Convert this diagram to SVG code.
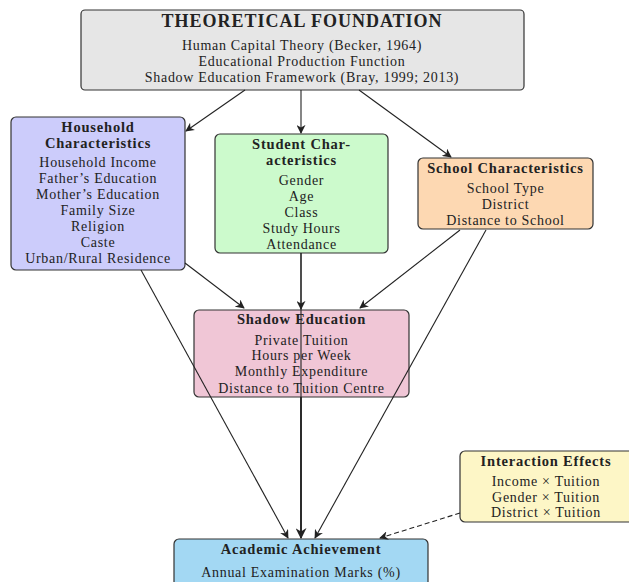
<svg xmlns="http://www.w3.org/2000/svg" width="629" height="582" viewBox="0 0 629 582">
<defs>
<marker id="arr" viewBox="0 0 10 10" refX="9" refY="5" markerWidth="9" markerHeight="9" markerUnits="userSpaceOnUse" orient="auto">
<path d="M0,0 L10,5 L0,10 L3,5 Z" fill="#222"/>
</marker>
<marker id="arrB" viewBox="0 0 10 10" refX="9" refY="5" markerWidth="11" markerHeight="11" markerUnits="userSpaceOnUse" orient="auto">
<path d="M0,0 L10,5 L0,10 L3,5 Z" fill="#222"/>
</marker>
<style>
.box{stroke:#333;stroke-width:1.2}
text{font-family:"Liberation Serif","DejaVu Serif",serif;fill:#222;text-anchor:middle}
.t{font-weight:bold;font-size:14.5px;letter-spacing:0.8px}
.b{font-size:14px;letter-spacing:0.7px}
.h{font-weight:bold;font-size:18px;letter-spacing:1px}
.c{fill:none;stroke:#222;stroke-width:1.1}
</style>
</defs>
<rect width="629" height="582" fill="#fff"/>
<g id="theory">
<rect class="box" x="81" y="10" width="443" height="80" rx="4" fill="#e6e6e6"/>
<text class="h" x="302" y="27">THEORETICAL FOUNDATION</text>
<text class="b" x="302" y="50">Human Capital Theory (Becker, 1964)</text>
<text class="b" x="302" y="66">Educational Production Function</text>
<text class="b" x="302" y="82">Shadow Education Framework (Bray, 1999; 2013)</text>
</g>
<g id="household">
<rect class="box" x="11" y="117" width="174" height="153" rx="5" fill="#ccccfb"/>
<text class="t" x="98" y="132">Household</text>
<text class="t" x="98" y="148">Characteristics</text>
<text class="b" x="98" y="167">Household Income</text>
<text class="b" x="98" y="183">Father’s Education</text>
<text class="b" x="98" y="199">Mother’s Education</text>
<text class="b" x="98" y="215">Family Size</text>
<text class="b" x="98" y="231">Religion</text>
<text class="b" x="98" y="247">Caste</text>
<text class="b" x="98" y="263">Urban/Rural Residence</text>
</g>
<g id="student">
<rect class="box" x="215" y="134" width="173" height="119" rx="5" fill="#ccfacc"/>
<text class="t" x="301.5" y="149">Student Char-</text>
<text class="t" x="301.5" y="165">acteristics</text>
<text class="b" x="301.5" y="185">Gender</text>
<text class="b" x="301.5" y="201">Age</text>
<text class="b" x="301.5" y="217">Class</text>
<text class="b" x="301.5" y="233">Study Hours</text>
<text class="b" x="301.5" y="249">Attendance</text>
</g>
<g id="school">
<rect class="box" x="418" y="158" width="175" height="71" rx="5" fill="#fdd8b2"/>
<text class="t" x="505.5" y="173">School Characteristics</text>
<text class="b" x="505.5" y="193">School Type</text>
<text class="b" x="505.5" y="209">District</text>
<text class="b" x="505.5" y="225">Distance to School</text>
</g>
<g id="shadow">
<rect class="box" x="194" y="310" width="215" height="87" rx="5" fill="#f0c6d6"/>
<text class="t" x="301.5" y="324">Shadow Education</text>
<text class="b" x="301.5" y="345">Private Tuition</text>
<text class="b" x="301.5" y="360">Hours per Week</text>
<text class="b" x="301.5" y="376">Monthly Expenditure</text>
<text class="b" x="301.5" y="393">Distance to Tuition Centre</text>
</g>
<g id="interaction">
<rect class="box" x="460" y="451" width="175" height="71" rx="5" fill="#fdf6c6"/>
<text class="t" x="546" y="466">Interaction Effects</text>
<text class="b" x="546" y="486">Income × Tuition</text>
<text class="b" x="546" y="502">Gender × Tuition</text>
<text class="b" x="546" y="517">District × Tuition</text>
</g>
<g id="achievement">
<rect class="box" x="174" y="539" width="254" height="60" rx="5" fill="#a3d8f3"/>
<text class="t" x="301" y="554">Academic Achievement</text>
<text class="b" x="301" y="577">Annual Examination Marks (%)</text>
</g>
<g id="connectors">
<line class="c" x1="245" y1="90" x2="186" y2="131" marker-end="url(#arr)"/>
<line class="c" x1="301" y1="90" x2="301" y2="133" marker-end="url(#arr)"/>
<line class="c" x1="359" y1="90" x2="451" y2="157" marker-end="url(#arr)"/>
<line class="c" x1="185" y1="263" x2="244" y2="308" marker-end="url(#arr)"/>
<line class="c" x1="301" y1="253" x2="301" y2="309" marker-end="url(#arr)"/>
<line class="c" x1="460" y1="230" x2="360" y2="308" marker-end="url(#arr)"/>
<line class="c" x1="301" y1="253" x2="301" y2="538"/>
<line class="c" x1="141" y1="270" x2="288" y2="538" marker-end="url(#arr)"/>
<line class="c" x1="486" y1="230" x2="315" y2="538" marker-end="url(#arr)"/>
<line class="c" x1="301" y1="397" x2="301" y2="538" style="stroke-width:1.8" marker-end="url(#arrB)"/>
<line class="c" x1="460" y1="513" x2="380" y2="538" stroke-dasharray="5,3" marker-end="url(#arr)"/>
</g>
</svg>
